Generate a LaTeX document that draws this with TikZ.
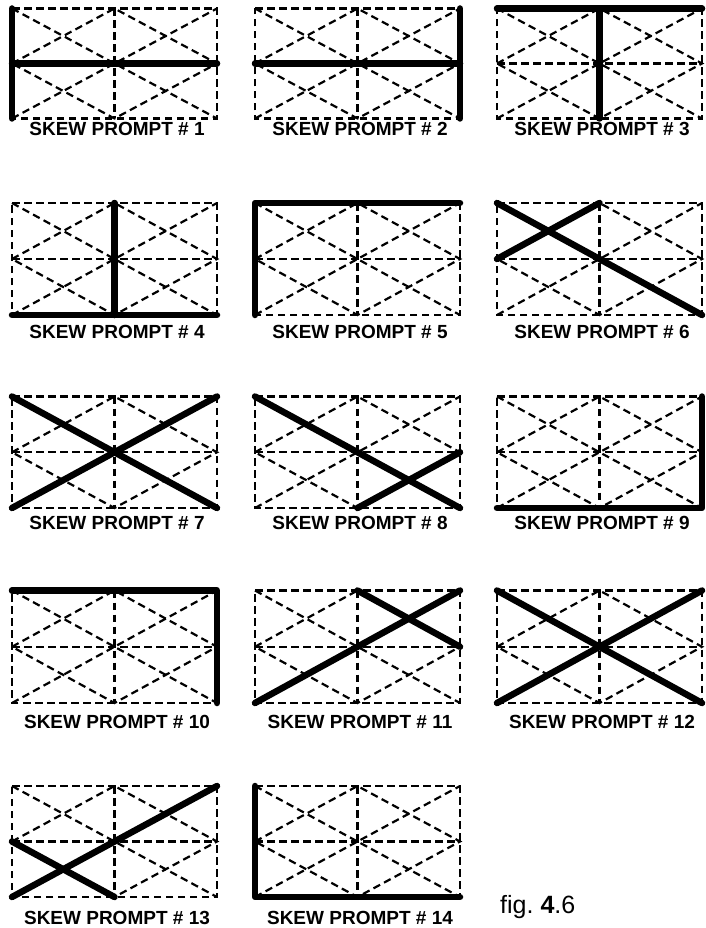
\documentclass[tikz,border=0pt]{standalone}
\usepackage{fontspec}
\setmainfont{Liberation Sans}
\tikzset{
  skewgrid/.style={line width=2.2pt, dash pattern=on 7.5pt off 4.5pt, black},
  thickline/.style={line width=6.5pt, line cap=round, line join=round, black},
  lbl/.style={font=\bfseries\fontsize{19}{19}\selectfont, inner sep=0pt, anchor=center},
}
\newcommand\skewpanel[6]{% name, x0, y0, y1, label y, number
  \coordinate (#1TL) at (#2,#3);
  \coordinate (#1TR) at ({#2+205},#3);
  \coordinate (#1BL) at (#2,#4);
  \coordinate (#1BR) at ({#2+205},#4);
  \coordinate (#1TM) at ({#2+102.5},#3);
  \coordinate (#1BM) at ({#2+102.5},#4);
  \coordinate (#1ML) at (#2,{(#3+#4)/2});
  \coordinate (#1MR) at ({#2+205},{(#3+#4)/2});
  \coordinate (#1C) at ({#2+102.5},{(#3+#4)/2});
  \draw[skewgrid] (#1TL) -- (#1TR) -- (#1BR) -- (#1BL) -- cycle;
  \draw[skewgrid] (#1TM) -- (#1BM);
  \draw[skewgrid] (#1ML) -- (#1MR);
  \draw[skewgrid] (#1TL) -- (#1BR);
  \draw[skewgrid] (#1BL) -- (#1TR);
  \draw[skewgrid] (#1ML) -- (#1TM) -- (#1MR) -- (#1BM) -- cycle;
  \node[lbl] (#1lab) at ({#2+105},#5) {SKEW PROMPT \# #6};
}
\begin{document}
\begin{tikzpicture}[x=1pt,y=-1pt]
\useasboundingbox (0,0) rectangle (706,928);
% row 1
\skewpanel{a}{12}{8.5}{118.5}{128.5}{1}
\skewpanel{b}{255}{8.5}{118.5}{128.5}{2}
\skewpanel{c}{497}{8.5}{118.5}{128.5}{3}
% row 2
\skewpanel{d}{12}{203}{315}{332}{4}
\skewpanel{e}{255}{203}{315}{332}{5}
\skewpanel{f}{497}{203}{315}{332}{6}
% row 3
\skewpanel{g}{12}{396.5}{508}{523}{7}
\skewpanel{h}{255}{396.5}{508}{523}{8}
\skewpanel{i}{497}{396.5}{508}{523}{9}
% row 4
\skewpanel{j}{12}{590.5}{703}{722}{10}
\skewpanel{k}{255}{590.5}{703}{722}{11}
\skewpanel{l}{497}{590.5}{703}{722}{12}
% row 5
\skewpanel{m}{12}{786}{897}{918}{13}
\skewpanel{n}{255}{786}{897}{918}{14}
% bold strokes
\draw[thickline] (aTL) -- (aBL);  \draw[thickline] (aML) -- (aMR);
\draw[thickline] (bTR) -- (bBR);  \draw[thickline] (bML) -- (bMR);
\draw[thickline] (cTL) -- (cTR);  \draw[thickline] (cTM) -- (cBM);
\draw[thickline] (dBL) -- (dBR);  \draw[thickline] (dTM) -- (dBM);
\draw[thickline] (eBL) -- (eTL) -- (eTR);
\draw[thickline] (fTL) -- (fBR);  \draw[thickline] (fML) -- (fTM);
\draw[thickline] (gTL) -- (gBR);  \draw[thickline] (gBL) -- (gTR);
\draw[thickline] (hTL) -- (hBR);  \draw[thickline] (hBM) -- (hMR);
\draw[thickline] (iTR) -- (iBR) -- (iBL);
\draw[thickline] (jTL) -- (jTR) -- (jBR);
\draw[thickline] (kBL) -- (kTR);  \draw[thickline] (kTM) -- (kMR);
\draw[thickline] (lTL) -- (lBR);  \draw[thickline] (lBL) -- (lTR);
\draw[thickline] (mBL) -- (mTR);  \draw[thickline] (mML) -- (mBM);
\draw[thickline] (nTL) -- (nBL) -- (nBR);
% caption
\node[anchor=base west, inner sep=0pt, font=\fontsize{25}{25}\selectfont] (fig) at (500,913) {fig.\ \textbf{4}.6};
\end{tikzpicture}
\end{document}
